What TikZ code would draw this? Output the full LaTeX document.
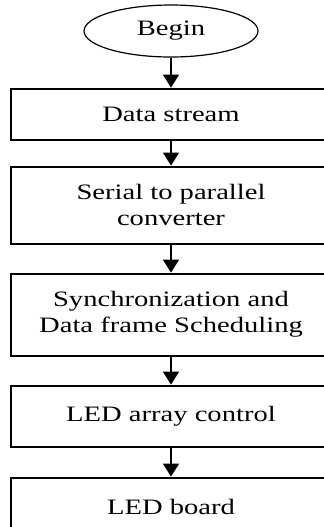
\documentclass[tikz,border=0pt]{standalone}
\usepackage{fontspec}
\setmainfont{Liberation Serif}[FakeStretch=1.3]
\usetikzlibrary{arrows.meta,positioning,shapes.geometric}

\begin{document}
\begin{tikzpicture}[node distance= 14pt]
      \useasboundingbox (0pt,0pt) rectangle (161.5pt,-263.5pt);
      \begin{scope}[every node/.style={draw,line width=1pt,minimum width=160pt,
          inner sep=0pt,align=center,font=\fontsize{11}{13}\selectfont}]
        \node (begin) [ellipse,line width=0.6pt,minimum width=87pt,minimum height=26pt]
          at (85.5pt,-15.5pt) {Begin};
        \node (stream) [below= 15pt of begin,minimum height=25.5pt] {Data stream};
        \node (serial) [below= 12.5pt of stream,minimum height=38.5pt] {Serial to parallel\\converter};
        \node (sync) [below= of serial,minimum height=41pt] {Synchronization and\\Data frame Scheduling};
        \node (control) [below= of sync,minimum height=30.5pt] {LED array control};
        \node (board) [below= 14.5pt of control,minimum height=29pt] {LED board};
      \end{scope}
      \begin{scope}
        [every edge/.style={draw= black, line width=0.8pt,
          -{Triangle[length=6.5pt,width=8pt]}}]
        \path (begin) edge (stream);
        \path (stream) edge (serial);
        \path (serial) edge (sync);
        \path (sync) edge (control);
        \path (control) edge (board);
      \end{scope}
    \end{tikzpicture}
\end{document}
